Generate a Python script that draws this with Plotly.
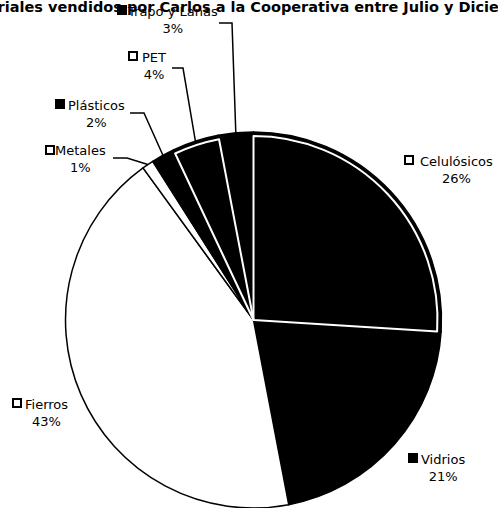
import math
import plotly.graph_objects as go

# ---- data ----
title_text = "Materiales vendidos por Carlos a la Cooperativa entre Julio y Diciembre"
categories = ["Celulósicos", "Vidrios", "Fierros", "Metales", "Plásticos", "PET", "Trapo y Lanas"]
percentages = [26, 21, 43, 1, 2, 4, 3]
slice_fill = ["black", "black", "white", "white", "black", "black", "black"]
key_fill = ["white", "black", "white", "white", "black", "white", "black"]
inner_border = [True, False, False, False, False, True, False]

# ---- layout constants (pixels) ----
W, H = 498, 508
CX, CY, R = 253.5, 320, 188
FONT = "DejaVu Sans, Liberation Sans, sans-serif"

# label block centre (x, y) and key centre (x, y) per category
label_pos = {
    "Celulósicos": (456, 170),
    "Vidrios": (443, 468),
    "Fierros": (46, 413),
    "Metales": (80, 159),
    "Plásticos": (96, 114),
    "PET": (154, 66),
    "Trapo y Lanas": (172, 20),
}
key_pos = {
    "Celulósicos": (409, 160),
    "Vidrios": (413, 458),
    "Fierros": (17, 403),
    "Metales": (50, 150),
    "Plásticos": (60, 104),
    "PET": (133, 56),
    "Trapo y Lanas": (122, 10),
}
# leader start / elbow (pixels); end computed on the rim from the data
leaders = {
    "Trapo y Lanas": ((219, 23), (232, 23)),
    "PET": ((172, 68), (183, 68)),
    "Plásticos": ((130, 113), (144, 113)),
    "Metales": ((113, 158), (127, 158)),
}


def px(x):
    return x / W


def py(y):
    return 1 - y / H


fig = go.Figure()

dom_x = [px(CX - R), px(CX + R)]
dom_y = [py(CY + R), py(CY - R)]
fig.add_trace(go.Pie(
    labels=categories, values=percentages, sort=False, direction="clockwise",
    rotation=0, textinfo="none", hoverinfo="label+percent",
    marker=dict(colors=slice_fill, line=dict(color="black", width=1.5)),
    domain=dict(x=dom_x, y=dom_y), showlegend=False,
))

# inner white border for selected slices
ri = R - 4
fig.add_trace(go.Pie(
    labels=categories, values=percentages, sort=False, direction="clockwise",
    rotation=0, textinfo="none", hoverinfo="skip",
    marker=dict(colors=["rgba(0,0,0,0)"] * len(categories),
                line=dict(color=["white" if b else "rgba(0,0,0,0)" for b in inner_border], width=2)),
    domain=dict(x=[px(CX - ri), px(CX + ri)], y=[py(CY + ri), py(CY - ri)]),
    showlegend=False,
))

annotations = []
shapes = []
total = sum(percentages)
cum = 0
for name, val, kf in zip(categories, percentages, key_fill):
    mid = (cum + val / 2) / total * 360
    cum += val
    lx, ly = label_pos[name]
    annotations.append(dict(
        x=px(lx), y=py(ly), xref="paper", yref="paper", showarrow=False,
        text=f"{name}<br>{round(val / total * 100)}%", align="center",
        font=dict(family=FONT, size=13, color="black"),
        xanchor="center", yanchor="middle",
    ))
    kx, ky = key_pos[name]
    shapes.append(dict(type="rect", xref="paper", yref="paper",
                       x0=px(kx - 4), x1=px(kx + 4), y0=py(ky + 4), y1=py(ky - 4),
                       fillcolor=kf, line=dict(color="black", width=2)))
    if name in leaders:
        (sx, sy), (ex, ey) = leaders[name]
        a = math.radians(mid)
        rx = CX + R * math.sin(a)
        ry = CY - R * math.cos(a)
        shapes.append(dict(type="path", xref="paper", yref="paper",
                           path=f"M {px(sx)} {py(sy)} L {px(ex)} {py(ey)} L {px(rx)} {py(ry)}",
                           line=dict(color="black", width=1.5)))

fig.update_layout(
    width=W, height=H, margin=dict(l=0, r=0, t=0, b=0),
    paper_bgcolor="white", plot_bgcolor="white",
    title=dict(text=f"<b>{title_text}</b>", x=0.5, xanchor="center", y=py(2), yanchor="top",
               font=dict(family="DejaVu Sans, sans-serif", size=14.5, color="black")),
    annotations=annotations, shapes=shapes,
)

fig.write_html("out.html", config={"displayModeBar": False},
               post_script="document.body.style.margin='0';")
